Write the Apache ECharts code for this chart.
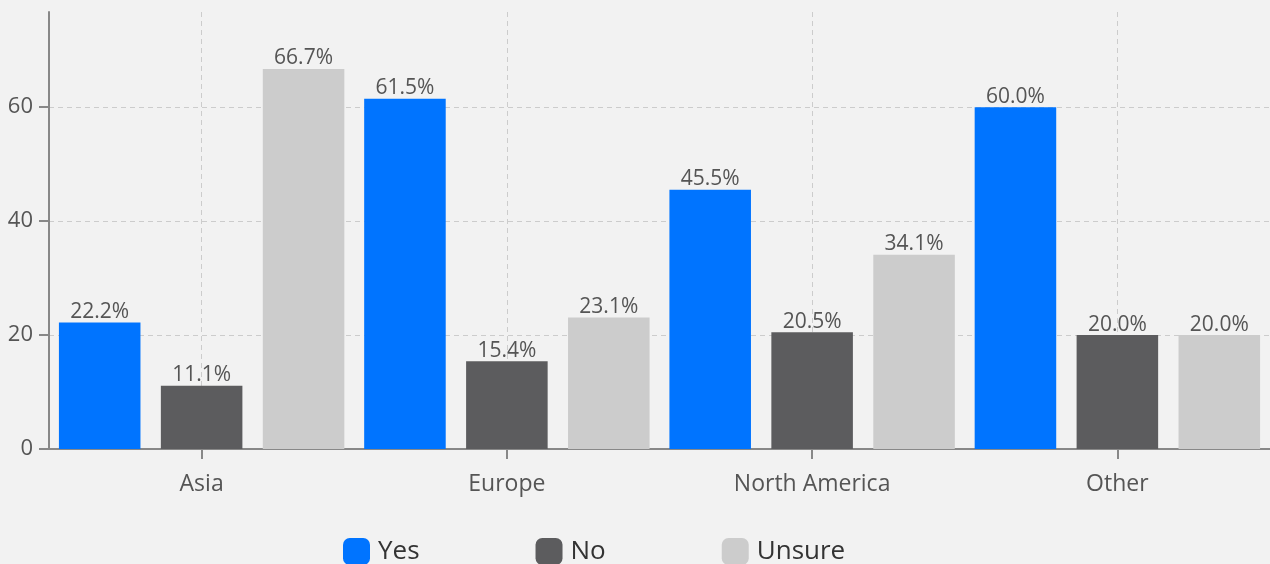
<!DOCTYPE html>
<html>
<head>
<meta charset="utf-8">
<script src="https://cdn.jsdelivr.net/npm/echarts@6/dist/echarts.min.js"></script>
<style>
  html, body { margin: 0; padding: 0; background: #f2f2f2; }
  #chart { width: 1270px; height: 564px; }
</style>
</head>
<body>
<div id="chart"></div>
<script>
const regions = ['Asia', 'Europe', 'North America', 'Other']
const yesValues = [22.2, 61.5, 45.5, 60.0]
const noValues = [11.1, 15.4, 20.5, 20.0]
const unsureValues = [66.7, 23.1, 34.1, 20.0]

const fontFamily = '"Open Sans", sans-serif'

function barSeries(name, data, color) {
  return {
    name: name,
    type: 'bar',
    data: data,
    barGap: '25%',
    barCategoryGap: '6.5%',
    itemStyle: { color: color },
    label: {
      show: true,
      position: 'top',
      distance: 0,
      color: '#555',
      fontSize: 21,
      fontFamily: fontFamily,
      formatter: p => p.value.toFixed(1) + '%'
    }
  }
}

const chart = echarts.init(document.getElementById('chart'))

const option = {
  backgroundColor: '#f2f2f2',
  animation: false,
  textStyle: { fontFamily: fontFamily },
  grid: { left: 49, right: 0, top: 12, bottom: 115 },
  legend: {
    left: 338,
    top: 533,
    itemWidth: 27,
    itemHeight: 27,
    itemGap: 116,
    icon: 'roundRect',
    textStyle: { fontSize: 26, color: '#333', fontFamily: fontFamily, padding: [0, 0, 0, 3] }
  },
  xAxis: {
    type: 'category',
    data: regions,
    axisLine: { lineStyle: { color: '#888', width: 2 } },
    axisTick: { show: true, alignWithLabel: true, length: 10, lineStyle: { color: '#888', width: 2 } },
    axisLabel: { color: '#555', fontSize: 23, margin: 24 },
    splitLine: {
      show: true,
      alignWithLabel: true,
      lineStyle: { color: '#ccc', type: [5, 4] }
    }
  },
  yAxis: {
    type: 'value',
    min: 0,
    max: v => v.max * 1.15,
    interval: 20,
    axisLine: { show: true, lineStyle: { color: '#888', width: 2 } },
    axisTick: { show: true, length: 10, lineStyle: { color: '#888', width: 2 } },
    axisLabel: { color: '#555', fontSize: 22, margin: 16, showMaxLabel: false },
    splitLine: { showMaxLine: false, lineStyle: { color: '#ccc', type: [5, 4] } }
  },
  series: [
    barSeries('Yes', yesValues, '#0074ff'),
    barSeries('No', noValues, '#5c5c5e'),
    barSeries('Unsure', unsureValues, '#cccccc')
  ]
}

chart.setOption(option)
</script>
</body>
</html>
